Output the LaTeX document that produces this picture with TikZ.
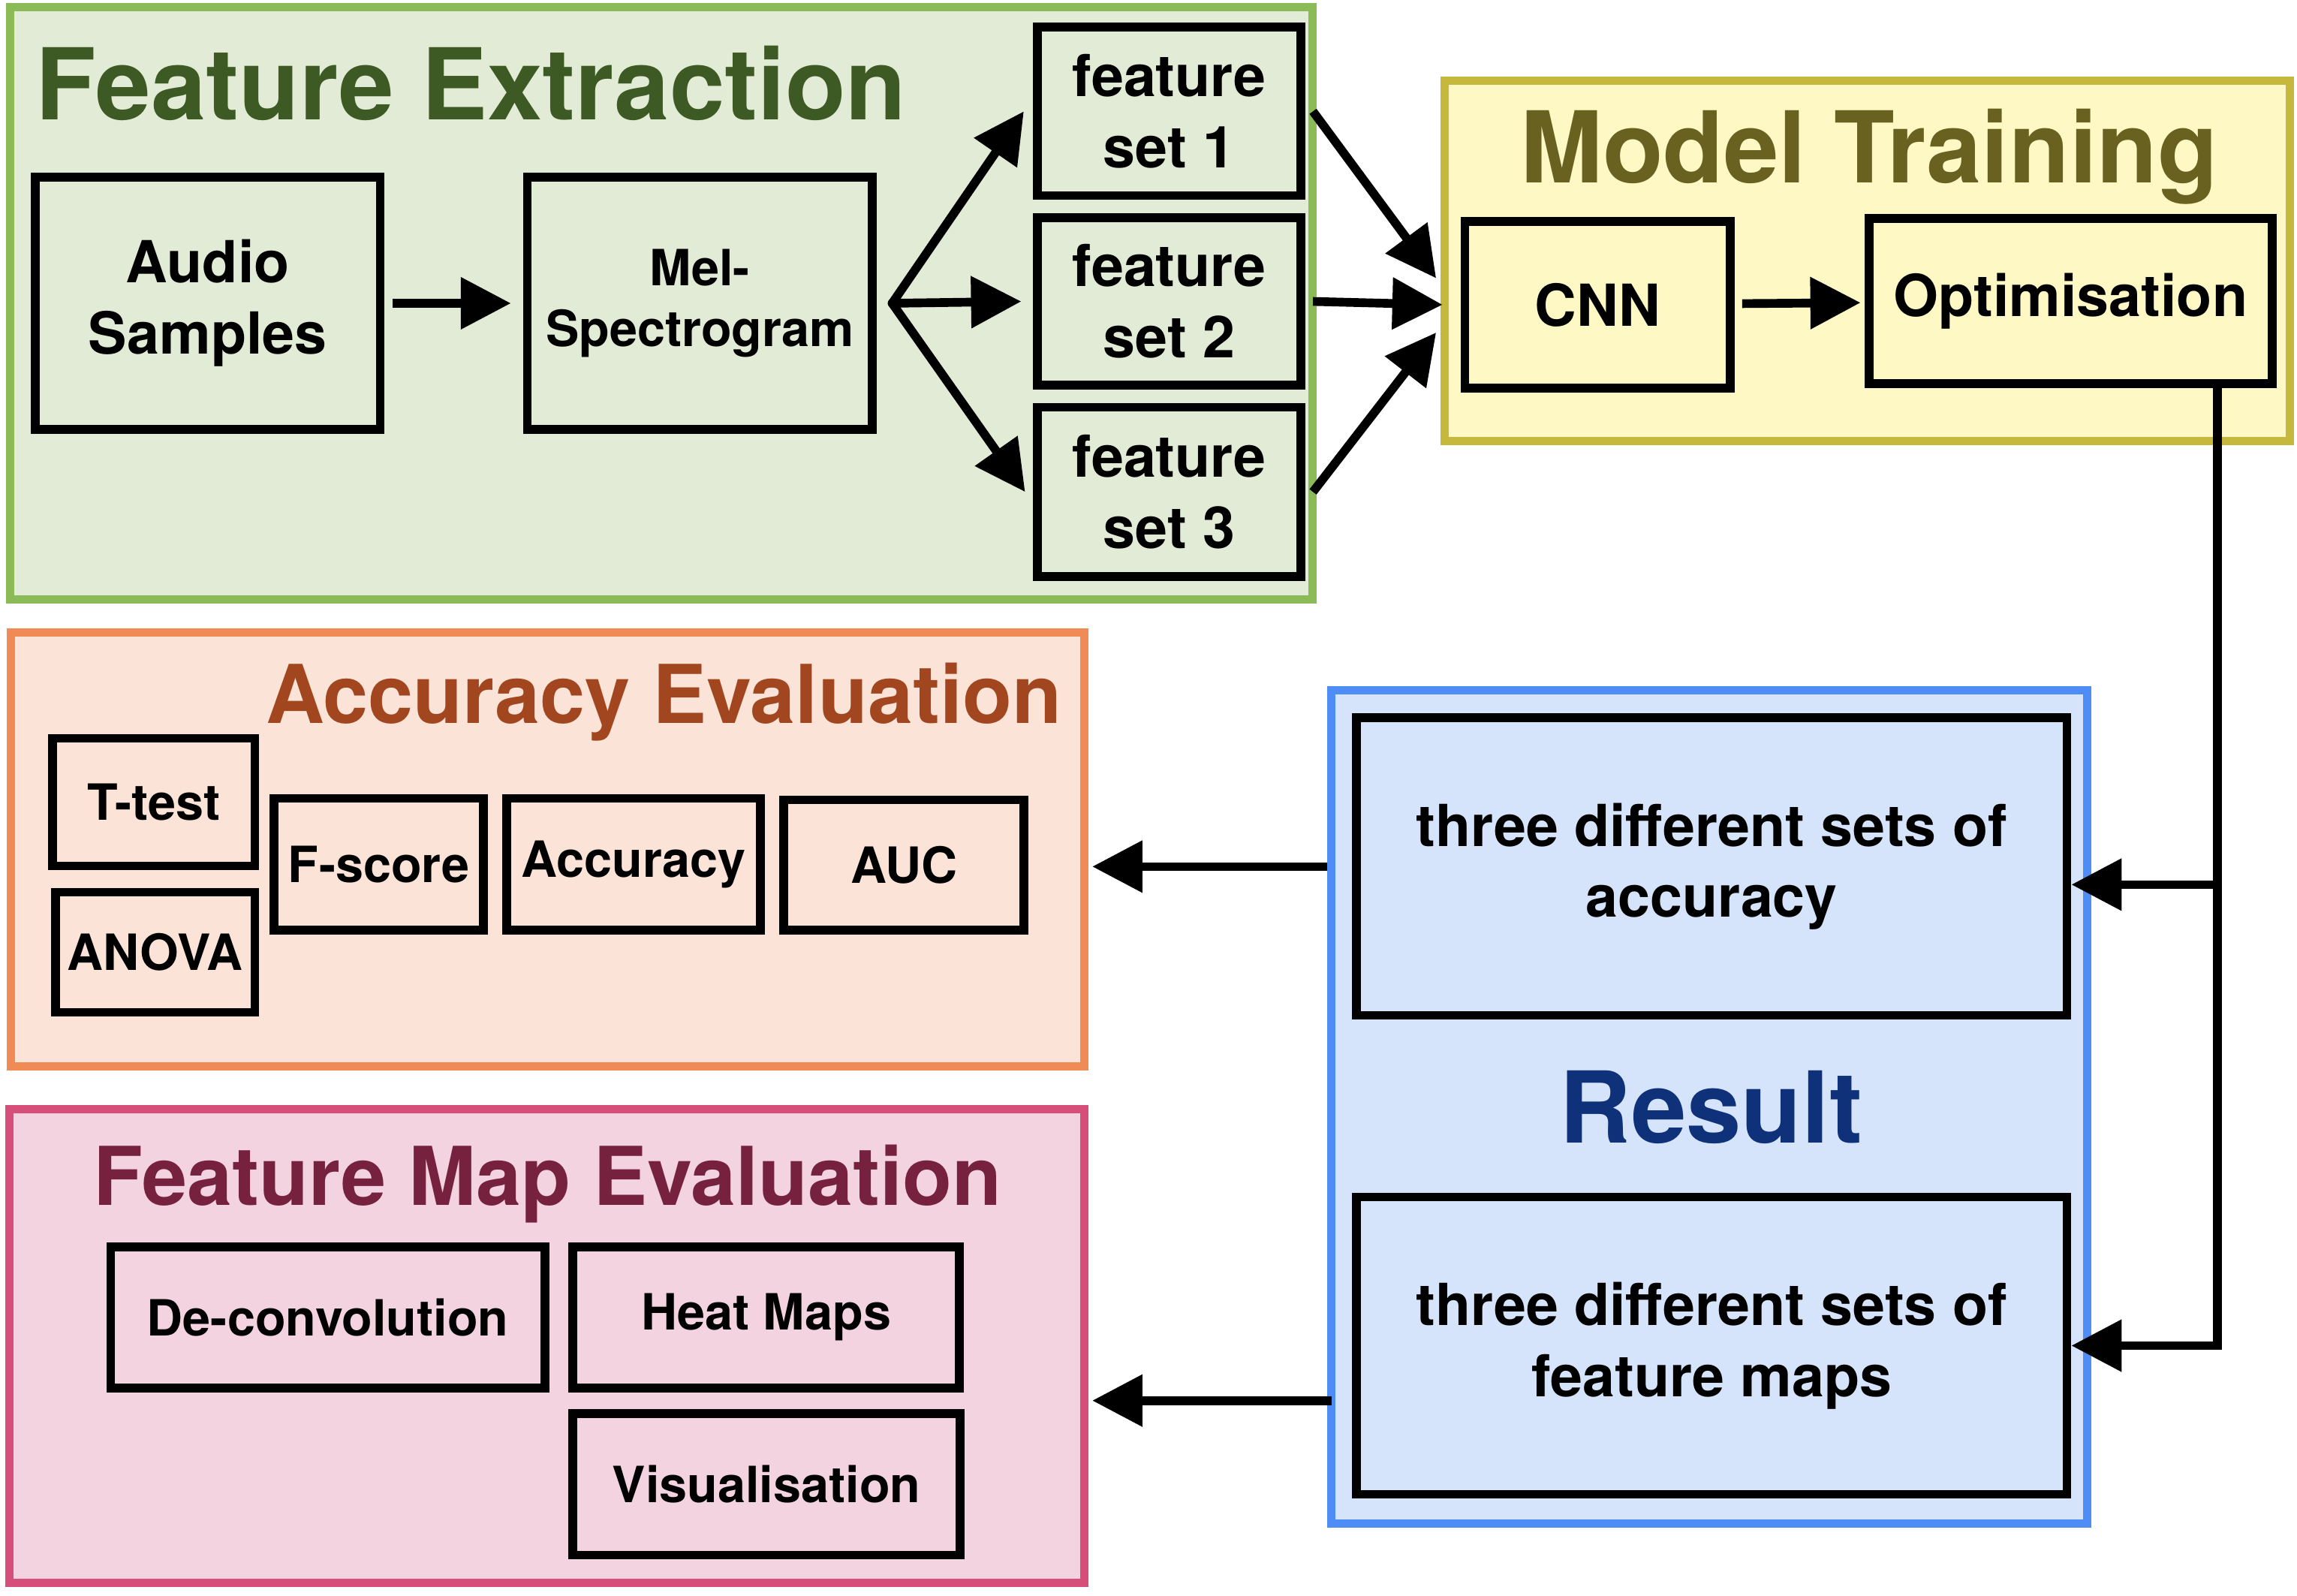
\documentclass[tikz,border=0pt]{standalone}
\usepackage{fontspec}
\setmainfont{TeX Gyre Heros}
\usetikzlibrary{arrows.meta}
\usetikzlibrary{fit}

\definecolor{feLine}{HTML}{8BBB56}
\definecolor{feFill}{HTML}{E2EBD6}
\definecolor{feText}{HTML}{3E5A24}
\definecolor{mtLine}{HTML}{C6B83C}
\definecolor{mtFill}{HTML}{FEF9C4}
\definecolor{mtText}{HTML}{686120}
\definecolor{aeLine}{HTML}{F08B55}
\definecolor{aeFill}{HTML}{FBE4D7}
\definecolor{aeText}{HTML}{A1461E}
\definecolor{fmLine}{HTML}{D64F7A}
\definecolor{fmFill}{HTML}{F3D3DF}
\definecolor{fmText}{HTML}{76223F}
\definecolor{resLine}{HTML}{4D8DF5}
\definecolor{resFill}{HTML}{D6E4FB}
\definecolor{resText}{HTML}{0E3179}

\newcommand{\bigtitle}{\fontsize{38.5pt}{46pt}\selectfont\bfseries}
\newcommand{\midtitle}{\fontsize{31.5pt}{38pt}\selectfont\bfseries}
\newcommand{\boxbig}{\fontsize{22.5pt}{27.6pt}\selectfont\bfseries}
\newcommand{\boxsmall}{\fontsize{19.4pt}{23.5pt}\selectfont\bfseries}

\begin{document}
\begin{tikzpicture}[x=0.02cm, y=-0.02cm,
    panel/.style 2 args={draw=#1, fill=#2, line width=3.2pt, inner sep=0pt},
    box/.style={draw=black, line width=3.4pt, inner sep=0pt, align=center, font=\boxbig},
    smallbox/.style={box, font=\boxsmall},
    sized/.style 2 args={minimum width=#1*0.02cm, minimum height=#2*0.02cm},
    arr/.style={line width=3.4pt, -{Triangle[length=19.5pt,width=19.5pt]}}]
            \useasboundingbox (0,0) rectangle (1568,1089);

            % coloured panels
            \node[panel={feLine}{feFill}, fit={(7,5) (896,409)}] (FE) {};
            \node[panel={mtLine}{mtFill}, fit={(986,55) (1563,301)}] (MT) {};
            \node[panel={aeLine}{aeFill}, fit={(7.5,431.5) (740,728)}] (AE) {};
            \node[panel={fmLine}{fmFill}, fit={(6.5,757) (740,1080.5)}] (FME) {};
            \node[panel={resLine}{resFill}, fit={(909,471) (1425,1040)}] (Result) {};

            % panel titles
            \node[anchor=base, text=feText, font=\bigtitle] (feTitle) at (321.7,81.7) {Feature Extraction};
            \node[anchor=base, text=mtText, font=\bigtitle] (mtTitle) at (1276,124.6) {Model Training};
            \node[anchor=base, text=aeText, font=\midtitle] (aeTitle) at (453,493.5) {Accuracy Evaluation};
            \node[anchor=base, text=fmText, font=\midtitle] (fmTitle) at (373.8,822.6) {Feature Map Evaluation};
            \node[anchor=base, text=resText, font=\bigtitle] (resTitle) at (1168,780) {Result};

            % feature extraction
            \node[box, sized={235.5}{172}] (audio) at (141.75,207) {Audio\\Samples};
            \node[smallbox, sized={235.5}{172}] (mel) at (477.75,207) {Mel-\\Spectrogram};
            \node[box, sized={180}{115}] (fs1) at (798,76) {feature\\set 1};
            \node[box, sized={180}{114.5}] (fs2) at (798,205.75) {feature\\set 2};
            \node[box, sized={180}{115.5}] (fs3) at (798,335.75) {feature\\set 3};

            % model training
            \node[box, sized={181}{114}] (cnn) at (1090.5,208) {CNN};
            \node[box, sized={275}{113}] (opt) at (1413.5,205.5) {Optimisation};

            % result
            \node[box, sized={485}{203}] (res1) at (1168.5,591.5) {three different sets of\\accuracy};
            \node[box, sized={485}{203}] (res2) at (1168.5,918.5) {three different sets of\\feature maps};

            % accuracy evaluation
            \node[smallbox, sized={138}{87}] (ttest) at (105,547.5) {T-test};
            \node[smallbox, sized={136}{82}] (anova) at (106,650) {ANOVA};
            \node[smallbox, sized={143}{90}] (fscore) at (258.5,590) {F-score};
            \node[smallbox, sized={173}{90}] (acc) at (432.5,590) {Accuracy};
            \node[smallbox, sized={164}{89}] (auc) at (617,590.5) {AUC};

            % feature map evaluation
            \node[smallbox, sized={296.5}{96.5}] (deconv) at (223.75,899.25) {De-convolution};
            \node[smallbox, sized={264}{96.5}] (heat) at (523,899.25) {Heat Maps};
            \node[smallbox, sized={264.5}{96.5}] (vis) at (523.25,1013.25) {Visualisation};

            % Adding arrows
            \draw[arr, shorten <=3pt, shorten >=4.7pt] (audio) -- (mel);
            \coordinate (fork) at ([xshift=6pt]mel.east);
            \draw[arr, line cap=round] (fork) -- ([xshift=-3.5pt]fs1.west);
            \draw[arr, line cap=round] (fork) -- ([xshift=-4.5pt]fs2.west);
            \draw[arr, line cap=round] (fork) -- ([xshift=-3pt]fs3.west);

            \draw[arr] ([xshift=3pt]fs1.east) -- ([xshift=-9.5pt,yshift=10.3pt]cnn.west);
            \draw[arr] ([xshift=3pt]fs2.east) -- ([xshift=-7pt]cnn.west);
            \draw[arr] ([xshift=3pt]fs3.east) -- ([xshift=-9.5pt,yshift=-10.8pt]cnn.west);
            \draw[arr, shorten <=3pt, shorten >=1.7pt] (cnn) -- (opt);

            % feedback line to the results
            \coordinate (trunk) at ([xshift=-23pt]opt.south east);
            \coordinate (res1in) at ([yshift=-7pt]res1.east);
            \draw[arr] (trunk) |- (res2.east);
            \draw[arr] (trunk |- res1in) -- (res1in);

            % results to evaluation
            \draw[arr, shorten >=1.6pt] (res1.west -| Result.west) -- (res1.west -| AE.east);
            \coordinate (fmOut) at (909,956);
            \draw[arr, shorten >=1.6pt] (fmOut) -- (fmOut -| FME.east);

        \end{tikzpicture}
\end{document}
